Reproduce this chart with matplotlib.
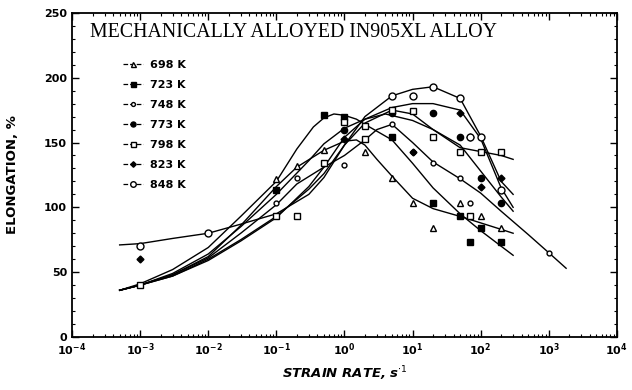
import matplotlib.pyplot as plt
from matplotlib.lines import Line2D
from matplotlib.ticker import LogLocator, MultipleLocator, NullFormatter

# Elongation vs strain rate for mechanically alloyed IN905XL,
# one fitted curve plus measured points for each test temperature.

temps = ['698 K', '723 K', '748 K', '773 K', '798 K', '823 K', '848 K']
markers = ['^', 's', 'o', 'o', 's', 'D', 'o']
filled = [False, True, False, True, False, True, False]
msizes = [4.5, 4.5, 3.5, 4.5, 4.5, 3.5, 5]

# measured points (strain rate s-1, elongation %)
pts_698 = [(0.1, 122), (0.2, 132), (0.5, 144), (2, 143), (5, 123), (10, 103),
           (20, 84), (50, 103), (100, 93), (200, 84)]
pts_723 = [(0.1, 113), (0.5, 171), (1, 170), (5, 154), (20, 103), (50, 93),
           (70, 73), (100, 84), (200, 73)]
pts_748 = [(0.1, 103), (0.2, 123), (1, 133), (5, 164), (10, 143), (20, 134),
           (50, 123), (70, 103), (1000, 65)]
pts_773 = [(1, 160), (5, 173), (20, 173), (50, 154), (100, 123), (200, 103)]
pts_798 = [(1e-3, 40), (0.1, 93), (0.2, 93), (0.5, 134), (1, 166), (2, 163),
           (2, 153), (5, 175), (10, 174), (20, 154), (50, 143), (70, 93),
           (100, 143), (200, 143)]
pts_823 = [(1e-3, 60), (1, 153), (10, 143), (50, 173), (70, 154), (100, 116),
           (200, 123)]
pts_848 = [(1e-3, 70), (1e-2, 80), (5, 186), (10, 186), (20, 193), (50, 184),
           (70, 154), (100, 154), (200, 113)]

# fitted curves
cur_698 = [(5e-4, 36), (1e-3, 40), (3e-3, 48), (1e-2, 62), (3e-2, 86), (0.1, 116),
           (0.2, 131), (0.5, 144), (1, 151), (1.5, 152), (2, 148), (3, 137),
           (5, 124), (10, 107), (20, 99), (50, 93), (100, 88), (200, 83), (300, 80)]
cur_723 = [(5e-4, 36), (1e-3, 41), (3e-3, 52), (1e-2, 69), (3e-2, 93), (0.1, 120),
           (0.2, 145), (0.35, 162), (0.5, 169), (0.7, 172), (1, 171), (1.5, 168),
           (2, 164), (5, 152), (10, 134), (20, 115), (50, 95), (100, 82), (200, 70),
           (300, 63)]
cur_748 = [(5e-4, 36), (1e-3, 40), (3e-3, 48), (1e-2, 61), (3e-2, 80), (0.1, 102),
           (0.2, 118), (0.5, 131), (1, 140), (2, 152), (3, 160), (5, 164),
           (10, 150), (20, 135), (50, 122), (100, 111), (200, 97), (500, 79),
           (1000, 65), (1800, 53)]
cur_773 = [(5e-4, 36), (1e-3, 40), (3e-3, 49), (1e-2, 64), (3e-2, 85), (0.1, 110),
           (0.3, 136), (0.5, 149), (1, 161), (2, 168), (4, 172), (10, 167),
           (20, 160), (50, 148), (100, 128), (200, 108), (300, 97)]
cur_798 = [(5e-4, 36), (1e-3, 40), (3e-3, 47), (1e-2, 60), (3e-2, 75), (0.1, 93),
           (0.3, 114), (0.5, 126), (1, 148), (2, 165), (5, 175), (10, 172),
           (20, 160), (50, 146), (100, 143), (200, 140), (300, 137)]
cur_823 = [(5e-4, 36), (1e-3, 40), (3e-3, 47), (1e-2, 59), (3e-2, 74), (0.1, 92),
           (0.3, 116), (0.5, 131), (1, 154), (2, 168), (5, 177), (10, 180),
           (20, 180), (50, 175), (100, 153), (200, 115), (300, 100)]
cur_848 = [(5e-4, 71), (1e-3, 72), (3e-3, 76), (1e-2, 80), (3e-2, 87), (0.1, 95),
           (0.3, 110), (0.5, 123), (1, 148), (2, 170), (5, 186), (10, 191),
           (20, 193), (50, 184), (100, 155), (200, 120), (300, 110)]

points = [pts_698, pts_723, pts_748, pts_773, pts_798, pts_823, pts_848]
curves = [cur_698, cur_723, cur_748, cur_773, cur_798, cur_823, cur_848]


def main() -> None:
    fig = plt.figure(figsize=(6.32, 3.9), dpi=100)
    ax = fig.add_axes([0.114, 0.136, 0.862, 0.831])

    for cur in curves:
        xs, ys = zip(*cur)
        ax.plot(xs, ys, color='black', lw=1.0, zorder=2)

    for pts, m, f, ms in zip(points, markers, filled, msizes):
        xs, ys = zip(*pts)
        ax.plot(xs, ys, ls='none', marker=m, ms=ms, mec='black', mew=1.0,
                mfc='black' if f else 'white', zorder=3)

    ax.set_xscale('log')
    ax.set_xlim(1e-4, 1e4)
    ax.set_ylim(0, 250)
    ax.xaxis.set_major_locator(LogLocator(base=10, numticks=20))
    ax.xaxis.set_minor_locator(LogLocator(base=10, subs=range(2, 10), numticks=20))
    ax.xaxis.set_minor_formatter(NullFormatter())
    ax.set_xticks([10.0 ** k for k in range(-4, 5)])
    ax.set_xticklabels([f'$\\mathbf{{10^{{{k}}}}}$' for k in range(-4, 5)], fontsize=8.5)
    ax.yaxis.set_major_locator(MultipleLocator(50))
    ax.yaxis.set_minor_locator(MultipleLocator(10))
    ax.tick_params(which='both', direction='in', top=True, right=True)
    ax.tick_params(which='major', length=5, width=1.0, labelsize=8)
    ax.tick_params(which='minor', length=2.5, width=0.8)
    for lab in ax.get_yticklabels():
        lab.set_fontweight('bold')
    for sp in ax.spines.values():
        sp.set_linewidth(1.3)

    ax.set_xlabel('STRAIN RATE, s$^{\\cdot 1}$', fontsize=9.5, fontweight='bold',
                  fontstyle='italic', labelpad=4)
    ax.set_ylabel('ELONGATION, %', fontsize=9.5, fontweight='bold', labelpad=18)

    ax.text(0.033, 0.938, 'MECHANICALLY ALLOYED IN905XL ALLOY', transform=ax.transAxes,
            family='Liberation Serif', fontsize=14.3, va='center', ha='left')

    handles = [Line2D([], [], color='black', ls='--', lw=0.9, marker=m, ms=ms * 0.8,
                      mec='black', mfc='black' if f else 'white')
               for m, f, ms in zip(markers, filled, msizes)]
    ax.legend(handles, temps, loc='upper left', bbox_to_anchor=(0.075, 0.885),
              frameon=False, handlelength=1.8, labelspacing=0.9, handletextpad=0.6,
              prop={'size': 8, 'weight': 'bold'})

    fig.savefig('out.png', dpi=100)


if __name__ == '__main__':
    main()
